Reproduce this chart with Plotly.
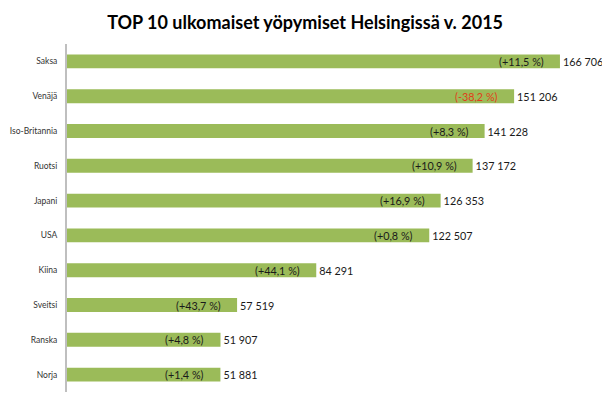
import plotly.graph_objects as go

countries = ["Saksa", "Venäjä", "Iso-Britannia", "Ruotsi", "Japani", "USA", "Kiina", "Sveitsi", "Ranska", "Norja"]
nights = [166706, 151206, 141228, 137172, 126353, 122507, 84291, 57519, 51907, 51881]
change_pct = [11.5, -38.2, 8.3, 10.9, 16.9, 0.8, 44.1, 43.7, 4.8, 1.4]

FONT = "Lato, Open Sans, sans-serif"

fig = go.Figure()
fig.add_trace(go.Bar(
    x=nights, y=countries, orientation="h",
    marker=dict(color="#9BBB59", line=dict(width=0)),
    texttemplate="%{x:,}", textposition="outside", constraintext="none",
    textfont=dict(family=FONT, size=10.8, color="#1a1a1a"),
    cliponaxis=False, hoverinfo="skip",
))

for c, v, p in zip(countries, nights, change_pct):
    s = ("+" if p >= 0 else "-") + f"{abs(p):.1f}".replace(".", ",")
    fig.add_annotation(
        x=v, y=c, text=f"({s} %)", showarrow=False, xanchor="right", xshift=-14,
        font=dict(family=FONT, size=10.8, color="#E0401A" if p < 0 else "#1a1a1a"),
    )

# page body has an 8px default margin, so the figure is sized to fill the rest
fig.update_layout(
    width=602, height=395,
    margin=dict(l=59, r=4, t=36, b=11),
    paper_bgcolor="white", plot_bgcolor="white",
    separators=", ",
    bargap=0.6,
    showlegend=False,
    title=dict(text="<b>TOP 10 ulkomaiset yöpymiset Helsingissä v. 2015</b>",
               x=0.4935, xanchor="center", xref="container", y=0.962, yanchor="middle",
               font=dict(family=FONT, size=18, color="#000")),
    xaxis=dict(range=[0, 182280], showgrid=False, zeroline=False, showticklabels=False,
               ticks="", automargin=False),
    yaxis=dict(autorange="reversed", showgrid=False, showline=True, linecolor="#BFBFBF", linewidth=2,
               ticks="", ticklabelstandoff=6, automargin=False,
               tickfont=dict(family=FONT, size=8.5, color="#333")),
)

fig.write_html("out.html")
